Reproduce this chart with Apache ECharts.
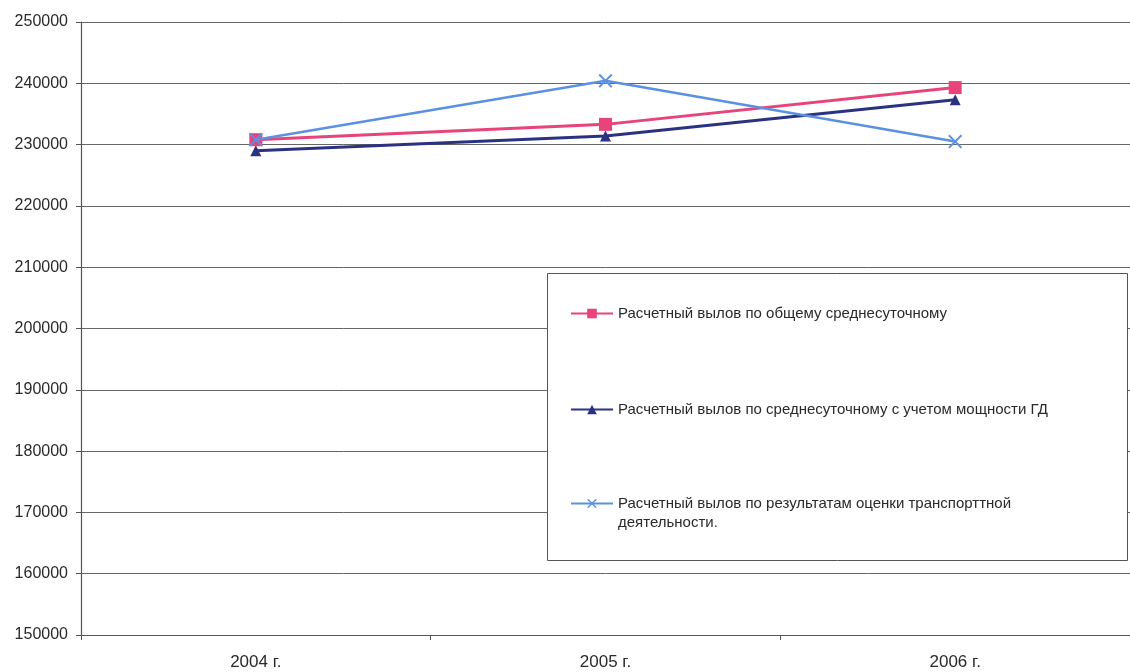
<!DOCTYPE html>
<html>
<head>
<meta charset="utf-8">
<script src="https://cdn.jsdelivr.net/npm/echarts@6/dist/echarts.min.js"></script>
<style>
  html, body { margin: 0; padding: 0; background: #ffffff; }
  #chart { width: 1130px; height: 672px; }
</style>
</head>
<body>
<div id="chart"></div>
<script>
// Годы
const years = ['2004 г.', '2005 г.', '2006 г.'];

// Названия рядов
const nameTotal = 'Расчетный вылов по общему среднесуточному';
const nameEngine = 'Расчетный вылов по среднесуточному с учетом мощности ГД';
const nameTransport = 'Расчетный вылов по результатам оценки транспорттной\nдеятельности.';

// Значения рядов
const totalDaily = [230800, 233300, 239300];
const engineDaily = [229000, 231400, 237300];
const transportActivity = [230800, 240400, 230500];

// Шкала значений
const yMin = 150000;
const yMax = 250000;
const yStep = 10000;

const crossPath = 'path://M1,0L5,4L9,0L10,1L6,5L10,9L9,10L5,6L1,10L0,9L4,5L0,1Z';

const colTotal = '#E8437A';
const colEngine = '#2C3282';
const colTransport = '#5B90E2';

// Одна запись легенды на ряд; пустая первая строка ставит значок у первой строки подписи
function legendItem(name, top, shiftIcon) {
  return {
    orient: 'vertical',
    left: 565,
    top: top,
    z: 10,
    itemWidth: 42,
    itemHeight: 12,
    formatter: shiftIcon ? (n => '\n' + n) : (n => n),
    textStyle: { fontSize: 15, color: '#2a2a2a', lineHeight: 19 },
    data: [name]
  };
}

const chart = echarts.init(document.getElementById('chart'));
chart.setOption({
  backgroundColor: '#ffffff',
  animation: false,
  textStyle: { fontFamily: 'Liberation Sans, Arial, sans-serif' },
  grid: { left: 81, top: 22, width: 1062, height: 613 },
  legend: [
    legendItem(nameTotal, 299, false),
    legendItem(nameEngine, 395, false),
    legendItem(nameTransport, 470, true)
  ],
  // Рамка легенды с белой заливкой поверх линий сетки
  graphic: [{
    type: 'rect',
    left: 547, top: 273,
    z: 5,
    shape: { width: 580, height: 287 },
    style: { fill: '#ffffff', stroke: '#555', lineWidth: 1 }
  }],
  xAxis: {
    type: 'category',
    data: years,
    boundaryGap: true,
    axisLine: { lineStyle: { color: '#555', width: 1.2 } },
    axisTick: { show: true, length: 5, lineStyle: { color: '#555' } },
    axisLabel: { fontSize: 17, color: '#2a2a2a', margin: 19 }
  },
  yAxis: {
    type: 'value',
    min: yMin,
    max: yMax,
    interval: yStep,
    axisLine: { show: true, lineStyle: { color: '#555', width: 1.2 } },
    axisTick: { show: true, length: 5, lineStyle: { color: '#555' } },
    axisLabel: { fontSize: 16, color: '#2a2a2a', margin: 13, formatter: v => String(v) },
    splitLine: { lineStyle: { color: '#666', width: 1 } }
  },
  series: [
    {
      name: nameTotal, type: 'line', data: totalDaily,
      symbol: 'rect', symbolSize: 13,
      lineStyle: { color: colTotal, width: 3 },
      itemStyle: { color: colTotal }, z: 3
    },
    {
      name: nameEngine, type: 'line', data: engineDaily,
      symbol: 'triangle', symbolSize: 11,
      lineStyle: { color: colEngine, width: 3 },
      itemStyle: { color: colEngine }, z: 2
    },
    {
      name: nameTransport, type: 'line', data: transportActivity,
      symbol: crossPath, symbolSize: 14,
      lineStyle: { color: colTransport, width: 2.5 },
      itemStyle: { color: colTransport }, z: 4
    }
  ]
});
</script>
</body>
</html>
